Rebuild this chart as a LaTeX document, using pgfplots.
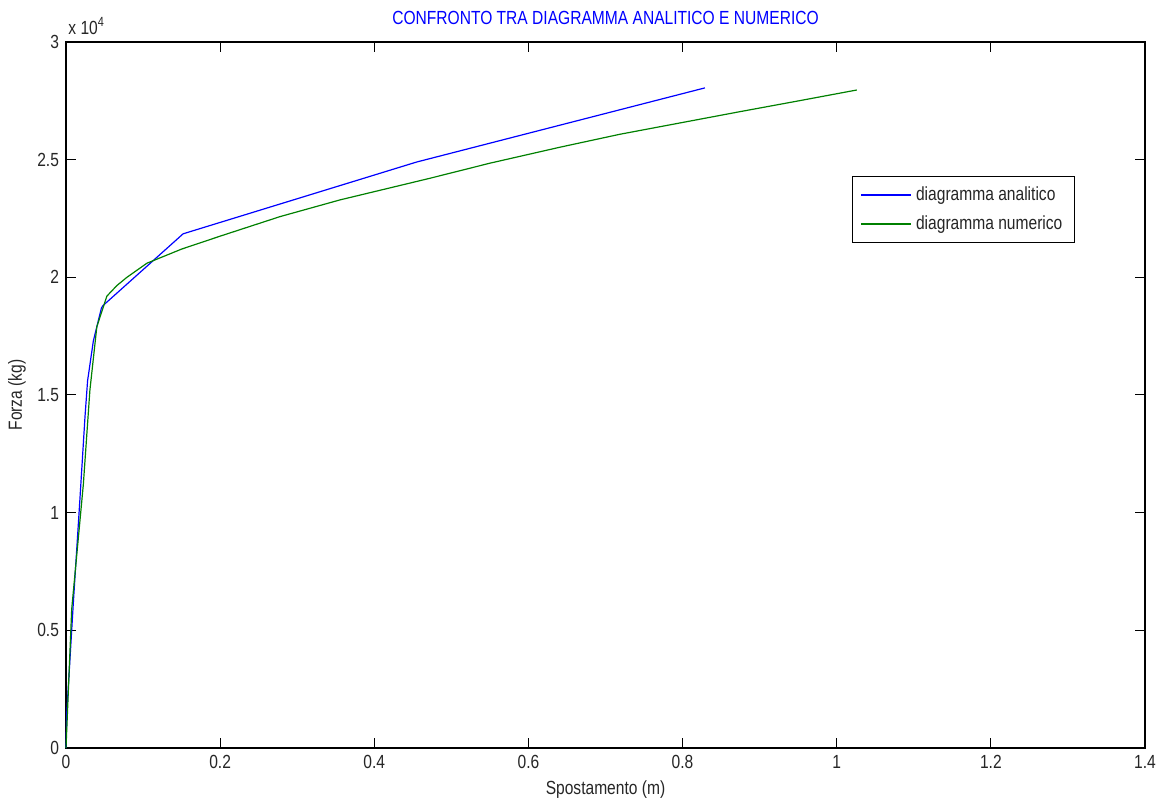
\documentclass[border=0pt]{standalone}
\usepackage{fontspec}
\setmainfont{Liberation Sans}[FakeStretch=0.82]
\usepackage{pgfplots}
\pgfplotsset{compat=1.18}

\definecolor{curveblue}{RGB}{0,0,255}
\definecolor{curvegreen}{RGB}{0,128,0}

\begin{document}
\begin{tikzpicture}[font=\fontsize{9.5pt}{11pt}\selectfont]
\begin{axis}[
  name=ax,
  width=539.5pt, height=353pt, scale only axis,
  xmin=0, xmax=1.4, ymin=0, ymax=30000,
  xtick={0,0.2,0.4,0.6,0.8,1,1.2,1.4},
  ytick={0,5000,10000,15000,20000,25000,30000},
  yticklabels={0,0.5,1,1.5,2,2.5,3},
  scaled y ticks=false,
  /pgf/number format/assume math mode=true,
  tick align=inside,
  major tick length=5pt,
  axis line style={line width=0.6pt, black},
  every tick/.style={black, line width=0.5pt},
  tick label style={text=black!85},
  clip=false,
  title={CONFRONTO TRA DIAGRAMMA ANALITICO E NUMERICO},
  every axis title/.style={at={(axis description cs:0.5,1)}, yshift=12pt, anchor=center, text=curveblue},
  xlabel={Spostamento (m)},
  ylabel={Forza (kg)},
  every axis x label/.style={at={(axis description cs:0.5,0)}, yshift=-21pt, anchor=center, text=black!85},
  every axis y label/.style={at={(axis description cs:0,0.5)}, xshift=-24.5pt, rotate=90, anchor=center, text=black!85},
  legend style={at={(rel axis cs:0.7285,0.81)}, anchor=north west, draw=black, line width=0.6pt,
    inner xsep=4pt, inner ysep=3pt, row sep=2pt, font=\fontsize{9.5pt}{11pt}\selectfont, text=black!85},
  legend cell align=left,
  legend image code/.code={\draw[#1, line width=0.7pt] (0pt,0pt) -- (25pt,0pt);},
]
% analytic (piecewise) force-displacement diagram
\addplot[curveblue, line width=0.6pt] coordinates {
  (0,0) (0.001,1500) (0.0095,6160) (0.018,10540) (0.0247,14100)
  (0.028,15600) (0.0355,17300) (0.046,18700) (0.048,18800)
  (0.152,21850) (0.455,24900) (0.829,28050)
};
\addlegendentry{diagramma analitico}
% numerical force-displacement diagram
\addplot[curvegreen, line width=0.6pt] coordinates {
  (0,0) (0.0074,5900) (0.0225,11200) (0.031,15200) (0.040,17900)
  (0.053,19200) (0.066,19650) (0.079,20000) (0.105,20600) (0.15,21200)
  (0.2,21750) (0.2777,22580) (0.3555,23290) (0.4723,24210) (0.550,24850)
  (0.641,25530) (0.7188,26080) (0.8745,27040) (0.9524,27510) (1.026,27960)
};
\addlegendentry{diagramma numerico}
\node[anchor=south west, inner sep=1pt, yshift=2.5pt, text=black!85] at (rel axis cs:0,1) {x 10\textsuperscript{4}};
\end{axis}
\path ([xshift=-33pt,yshift=-31pt]ax.south west) rectangle ([xshift=11.5pt,yshift=21pt]ax.north east);
\end{tikzpicture}
\end{document}
